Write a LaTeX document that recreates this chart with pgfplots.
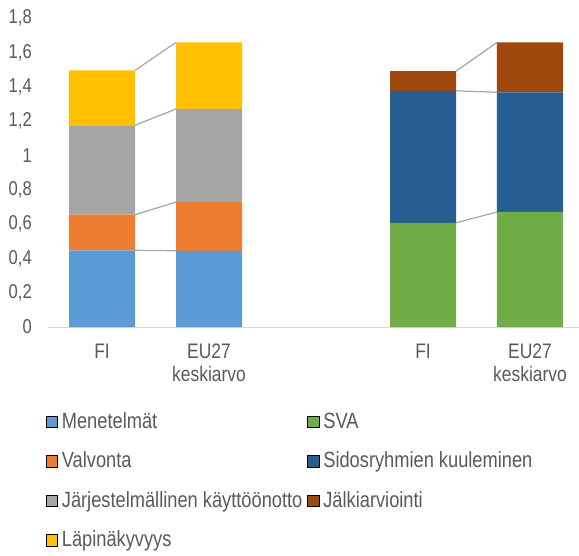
\documentclass[border=0pt]{standalone}
\usepackage{fontspec}
\setmainfont{Liberation Sans}[FakeStretch=0.83]
\usepackage{pgfplots}
\usepackage{pgfplotstable}
\pgfplotsset{compat=1.18}
\usetikzlibrary{calc}
\definecolor{cMen}{HTML}{5B9BD5}
\definecolor{cVal}{HTML}{ED7D31}
\definecolor{cJar}{HTML}{A5A5A5}
\definecolor{cLap}{HTML}{FFC000}
\definecolor{cSVA}{HTML}{70AD47}
\definecolor{cSid}{HTML}{255E91}
\definecolor{cJal}{HTML}{9E480E}
\definecolor{txt}{HTML}{595959}
\definecolor{axl}{HTML}{D9D9D9}
\pgfplotstableread{
x Men Val Jar Lap SVA Sid Jal
0 0.447 0.207 0.521 0.320 0 0 0
1 0.444 0.284 0.542 0.388 0 0 0
3 0 0 0 0 0.607 0.769 0.114
4 0 0 0 0 0.670 0.697 0.291
}\data
\begin{document}
\begin{tikzpicture}[font=\fontsize{22bp}{23bp}\selectfont]
\begin{axis}[name=ax, scale only axis, width=531bp, height=309bp,
  xmin=-0.505, xmax=4.458, ymin=0, ymax=1.8,
  ybar stacked, bar width=0.617,
  axis x line*=bottom, axis y line*=left,
  x axis line style={draw=axl, line width=1bp},
  y axis line style={draw=none},
  major tick length=0,
  xtick={0,1,3,4},
  xticklabels={FI, EU27\\keskiarvo, FI, EU27\\keskiarvo},
  xticklabel style={align=center, inner sep=0pt, anchor=north, yshift=-17bp,
    font=\fontsize{21bp}{23bp}\selectfont},
  ytick={0,0.2,0.4,0.6,0.8,1,1.2,1.4,1.6,1.8},
  yticklabel style={inner sep=0pt, anchor=east, xshift=-16bp,
    font=\fontsize{20bp}{21bp}\selectfont,
    /pgf/number format/use comma, /pgf/number format/fixed,
    /pgf/number format/precision=1, /pgf/number format/assume math mode=true},
  tick label style={text=txt},
  legend columns=2,
  legend cell align=left,
  legend image code/.code={\fill[#1] (0bp,-4.25bp) rectangle (11.5bp,7.25bp);},
  legend style={at={(-0.0038,-0.2793)}, anchor=north west, draw=none, fill=none,
    inner sep=0pt, outer sep=0pt,
    row sep=19.4bp,
    nodes={text=txt, text height=15bp, text depth=5bp, inner sep=0pt},
    /tikz/every odd column/.append style={column sep=4bp},
    /tikz/every even column/.append style={column sep=5bp}},
]
\addplot[forget plot, fill=cMen, draw=none] table[x=x, y=Men]{\data};
\addplot[forget plot, fill=cVal, draw=none] table[x=x, y=Val]{\data};
\addplot[forget plot, fill=cJar, draw=none] table[x=x, y=Jar]{\data};
\addplot[forget plot, fill=cLap, draw=none] table[x=x, y=Lap]{\data};
\addplot[forget plot, fill=cSVA, draw=none] table[x=x, y=SVA]{\data};
\addplot[forget plot, fill=cSid, draw=none] table[x=x, y=Sid]{\data};
\addplot[forget plot, fill=cJal, draw=none] table[x=x, y=Jal]{\data};
\addlegendimage{fill=cMen}\addlegendentry{Menetelmät}
\addlegendimage{fill=cSVA}\addlegendentry{SVA}
\addlegendimage{fill=cVal}\addlegendentry{Valvonta}
\addlegendimage{fill=cSid}\addlegendentry{Sidosryhmien kuuleminen}
\addlegendimage{fill=cJar}\addlegendentry{Järjestelmällinen käyttöönotto}
\addlegendimage{fill=cJal}\addlegendentry{Jälkiarviointi}
\addlegendimage{fill=cLap}\addlegendentry{Läpinäkyvyys}
\end{axis}
\begin{axis}[at={(ax.south west)}, anchor=south west, scale only axis, width=531bp, height=309bp,
  xmin=-0.505, xmax=4.458, ymin=0, ymax=1.8, axis lines=none, ticks=none]
\addplot[cJar, line width=1.2bp] coordinates {(0.3085,0.447) (0.6915,0.444)};
\addplot[cJar, line width=1.2bp] coordinates {(0.3085,0.654) (0.6915,0.728)};
\addplot[cJar, line width=1.2bp] coordinates {(0.3085,1.175) (0.6915,1.270)};
\addplot[cJar, line width=1.2bp] coordinates {(0.3085,1.495) (0.6915,1.658)};
\addplot[cJar, line width=1.2bp] coordinates {(3.3085,0.607) (3.6915,0.670)};
\addplot[cJar, line width=1.2bp] coordinates {(3.3085,1.376) (3.6915,1.367)};
\addplot[cJar, line width=1.2bp] coordinates {(3.3085,1.490) (3.6915,1.658)};
\end{axis}
\pgfresetboundingbox
\path ($(ax.south west)+(-48bp,-229bp)$) rectangle ($(ax.north east)+(0bp,18bp)$);
\end{tikzpicture}
\end{document}
